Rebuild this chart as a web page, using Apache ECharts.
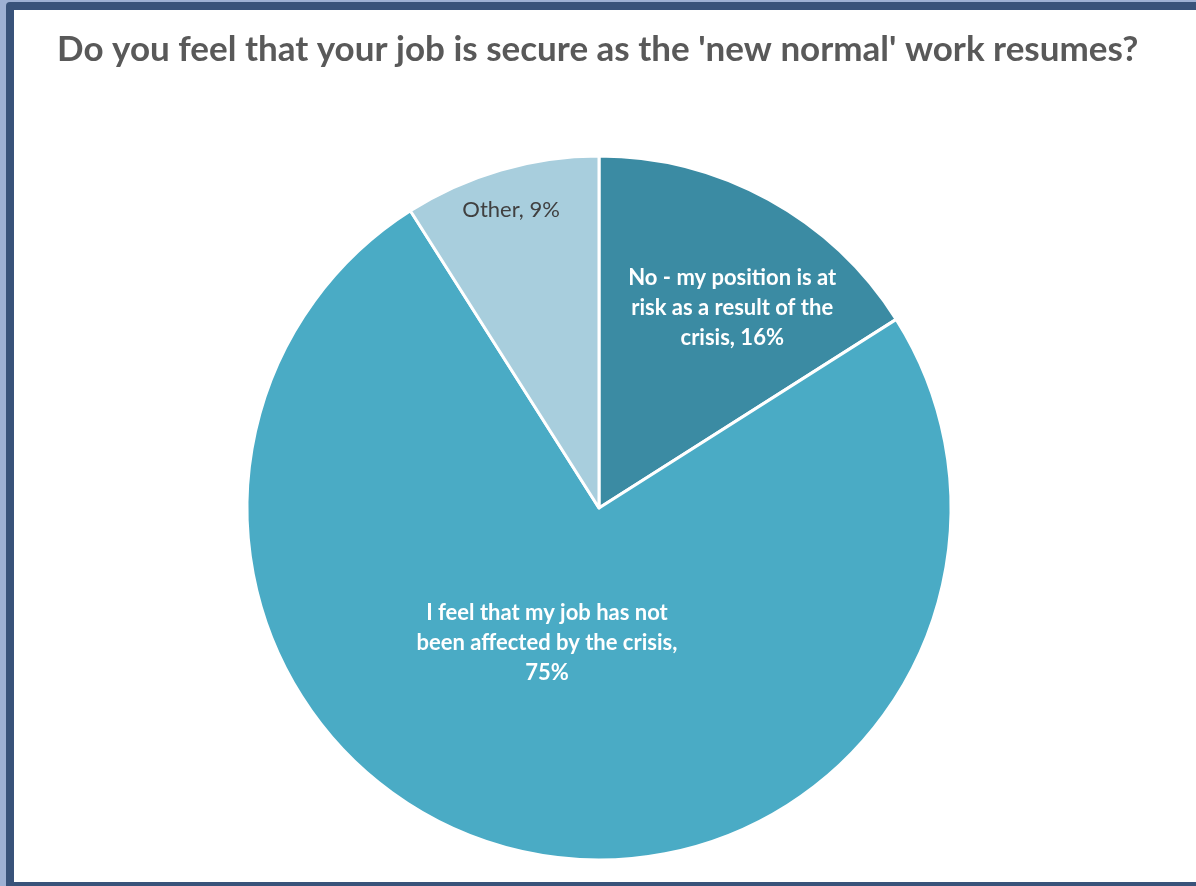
<!DOCTYPE html>
<html>
<head>
<meta charset="utf-8">
<script src="https://cdn.jsdelivr.net/npm/echarts@6/dist/echarts.min.js"></script>
<style>
  html, body { margin: 0; padding: 0; width: 1196px; height: 886px; overflow: hidden; background: #ffffff; }
  #outer { position: absolute; left: 0; top: 0; width: 1196px; height: 886px; background: #9eb1d4; }
  #frame { position: absolute; left: 6px; top: 2px; width: 1200px; height: 884px; background: #39537a; border-top-left-radius: 4px; }
  #chart { position: absolute; left: 14px; top: 10px; width: 1182px; height: 872px; background: #ffffff; }
</style>
</head>
<body>
<div id="outer"></div>
<div id="frame"></div>
<div id="chart"></div>
<script>
// Survey answers, clockwise from 12 o'clock
const categories = [
  'No - my position is at\nrisk as a result of the\ncrisis',
  'I feel that my job has not\nbeen affected by the crisis',
  'Other'
];
const shares = [16, 75, 9];                 // percent of respondents
const breakBeforeValue = [false, true, false];
const sliceColors = ['#3b8ba3', '#4aabc5', '#a8cedd'];
const labelColors = ['#ffffff', '#ffffff', '#404040'];
const labelWeights = ['bold', 'bold', 'normal'];
// nudges of each label away from the slice midpoint
const labelNudges = [
  { dx: 47, dy: -43 },
  { dx: -13, dy: -40 },
  { dx: -38, dy: -126 }
];

const chart = echarts.init(document.getElementById('chart'), null, { renderer: 'canvas' });

chart.setOption({
  animation: false,
  title: {
    text: "Do you feel that your job is secure as the 'new normal' work resumes?",
    left: 38,
    top: 17,
    textStyle: {
      fontFamily: 'Lato',
      fontWeight: 'bold',
      fontSize: 35,
      color: '#595959'
    }
  },
  series: [{
    type: 'pie',
    center: [585, 498],
    radius: 352,
    startAngle: 90,
    clockwise: true,
    avoidLabelOverlap: false,
    itemStyle: { borderColor: '#ffffff', borderWidth: 3 },
    label: {
      show: true,
      position: 'inside',
      fontFamily: 'Lato',
      fontSize: 22,
      lineHeight: 30,
      align: 'center',
      formatter: function (p) {
        return p.name + ',' + (breakBeforeValue[p.dataIndex] ? '\n' : ' ') + p.value + '%';
      }
    },
    labelLine: { show: false },
    labelLayout: function (p) { return labelNudges[p.dataIndex]; },
    data: categories.map(function (name, i) {
      return {
        name: name,
        value: shares[i],
        itemStyle: { color: sliceColors[i] },
        label: { color: labelColors[i], fontWeight: labelWeights[i] }
      };
    })
  }]
});
</script>
</body>
</html>
